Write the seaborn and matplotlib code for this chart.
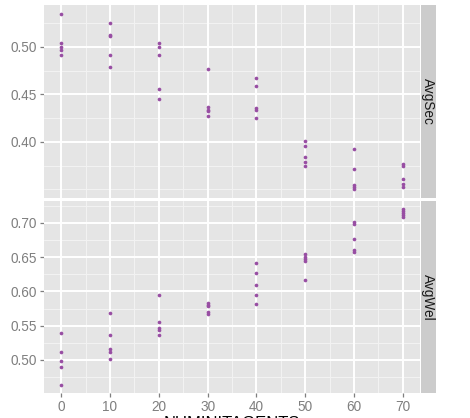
import matplotlib
matplotlib.use("Agg")
import matplotlib.pyplot as plt
import seaborn as sns
import pandas as pd

# x levels, five runs per level
levels = [0, 10, 20, 30, 40, 50, 60, 70]

avg_sec = [
    [0.535, 0.504, 0.500, 0.497, 0.491],
    [0.525, 0.513, 0.512, 0.491, 0.479],
    [0.504, 0.500, 0.492, 0.456, 0.445],
    [0.477, 0.437, 0.434, 0.432, 0.427],
    [0.467, 0.459, 0.436, 0.434, 0.425],
    [0.401, 0.396, 0.384, 0.379, 0.374],
    [0.392, 0.371, 0.354, 0.352, 0.3505],
    [0.377, 0.375, 0.361, 0.356, 0.352],
]

avg_wel = [
    [0.539, 0.512, 0.498, 0.490, 0.464],
    [0.569, 0.536, 0.516, 0.511, 0.502],
    [0.595, 0.555, 0.547, 0.544, 0.537],
    [0.583, 0.580, 0.578, 0.570, 0.567],
    [0.642, 0.627, 0.610, 0.595, 0.582],
    [0.655, 0.651, 0.648, 0.644, 0.617],
    [0.702, 0.699, 0.676, 0.660, 0.658],
    [0.720, 0.717, 0.714, 0.712, 0.709],
]

panels = ["AvgSec", "AvgWel"]
sec_ticks = [0.40, 0.45, 0.50]
wel_ticks = [0.50, 0.55, 0.60, 0.65, 0.70]
x_ticks = [0, 10, 20, 30, 40, 50, 60, 70]
x_label = "NUMINITAGENTS"

rows = []
for name, series in zip(panels, [avg_sec, avg_wel]):
    for lv, vals in zip(levels, series):
        for v in vals:
            rows.append({"x": lv, "value": v, "variable": name})
df = pd.DataFrame(rows)

sns.set_theme(style="white")
plt.rcParams["font.family"] = ["Liberation Sans", "DejaVu Sans"]

PANEL = "#E5E5E5"
STRIP = "#CCCCCC"
GREY = "#7F7F7F"
POINT = "#984EA3"

fig = plt.figure(figsize=(4.7, 4.18), dpi=100)
W, H = 470.0, 418.0


def box(x0, y0, x1, y1):
    return [x0 / W, 1 - y1 / H, (x1 - x0) / W, (y1 - y0) / H]


axes = [fig.add_axes(box(44, 5, 420, 197.5)), fig.add_axes(box(44, 200.5, 420, 393.3))]
strips = [fig.add_axes(box(420.5, 5, 436, 197.5)), fig.add_axes(box(420.5, 200.5, 436, 393.3))]
ticks_list = [sec_ticks, wel_ticks]

xmin, xmax = min(levels), max(levels)
xpad = (xmax - xmin) * 0.05

for ax, st, name, yt in zip(axes, strips, panels, ticks_list):
    sub = df[df["variable"] == name]
    sns.scatterplot(data=sub, x="x", y="value", ax=ax, color=POINT,
                    s=7, linewidth=0, zorder=3, legend=False)
    lo, hi = sub["value"].min(), sub["value"].max()
    pad = (hi - lo) * 0.05
    ax.set_xlim(xmin - xpad, xmax + xpad)
    ax.set_ylim(lo - pad, hi + pad)
    ax.set_facecolor(PANEL)
    for s in ax.spines.values():
        s.set_visible(False)
    # minor grid
    step = yt[1] - yt[0]
    ym = [yt[0] - step * 1.5, yt[0] - step / 2, yt[0] - step] + [t + step / 2 for t in yt]
    for m in ym:
        if lo - pad < m < hi + pad and m not in yt:
            ax.axhline(m, color="#F2F2F2", lw=0.75, zorder=1)
    for m in range(5, 70, 10):
        ax.axvline(m, color="#F2F2F2", lw=0.75, zorder=1)
    for t in yt:
        ax.axhline(t, color="white", lw=1.4, zorder=2)
    for t in x_ticks:
        ax.axvline(t, color="white", lw=1.4, zorder=2)
    ax.set_yticks(yt)
    ax.set_yticklabels([f"{t:.2f}" for t in yt])
    ax.set_xticks(x_ticks)
    ax.tick_params(axis="both", colors=GREY, labelcolor=GREY, labelsize=9.8,
                   length=3, width=0.9, pad=2, left=True, bottom=True)
    ax.set_xlabel("")
    ax.set_ylabel("")

    st.set_facecolor(STRIP)
    st.set_xticks([])
    st.set_yticks([])
    for s in st.spines.values():
        s.set_visible(False)
    st.text(0.5, 0.5, name, rotation=-90, ha="center", va="center",
            fontsize=9.8, color="#1A1A1A", transform=st.transAxes)

axes[0].tick_params(axis="x", labelbottom=False, length=0)

# axis title sits mostly below the canvas edge, as in the original export
fig.text(232 / W, 1 - 415.5 / H, x_label, ha="center", va="top",
         fontsize=12, color="black")

fig.savefig("out.png", dpi=100, facecolor="white")
